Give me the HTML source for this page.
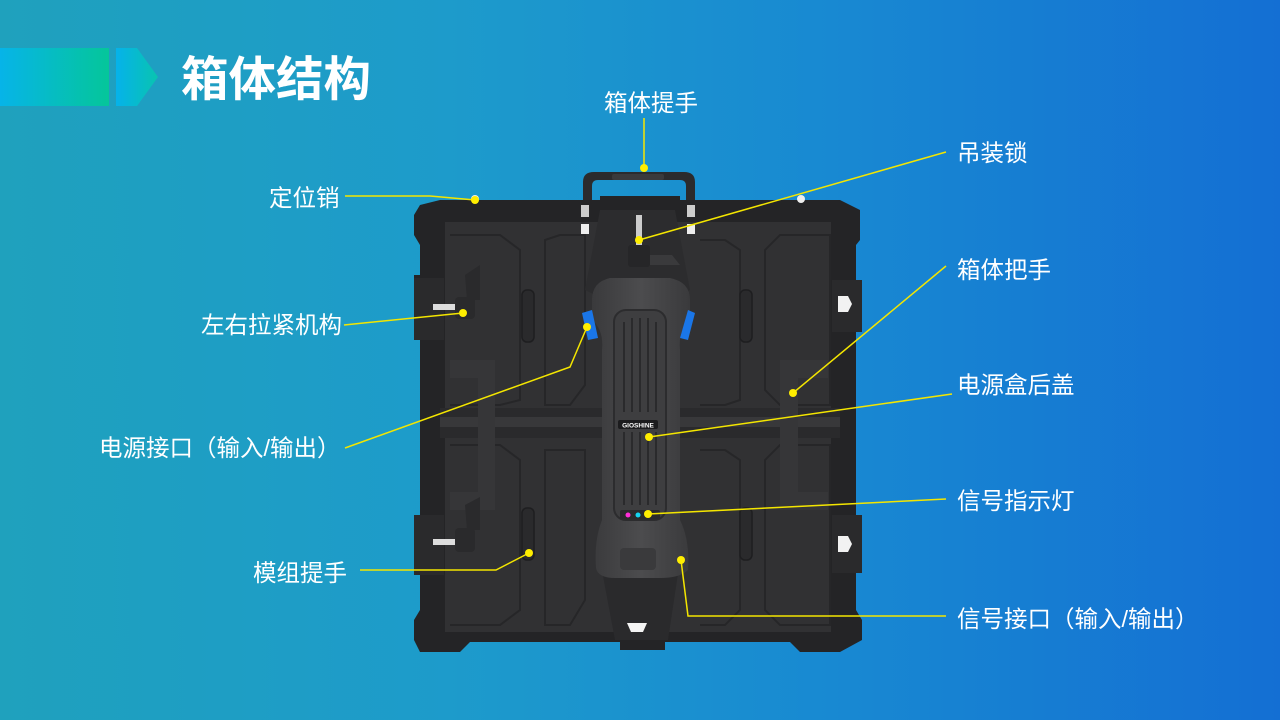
<!DOCTYPE html>
<html><head><meta charset="utf-8"><style>
html,body{margin:0;padding:0;width:1280px;height:720px;overflow:hidden}
svg{display:block}
text{font-family:"Liberation Sans","Noto Sans CJK SC",sans-serif;fill:#fff}
</style></head><body>
<svg width="1280" height="720" viewBox="0 0 1280 720" xmlns="http://www.w3.org/2000/svg">
<defs>
<linearGradient id="bg" x1="0" y1="0" x2="1" y2="0">
<stop offset="0" stop-color="#1fa1bd"/><stop offset="0.35" stop-color="#1d9bcb"/><stop offset="0.65" stop-color="#1889d2"/><stop offset="1" stop-color="#146fd3"/>
</linearGradient>
<linearGradient id="b1" x1="0" y1="0" x2="1" y2="0"><stop offset="0" stop-color="#06b4e8"/><stop offset="1" stop-color="#05c69a"/></linearGradient>
<linearGradient id="b2" x1="0" y1="0" x2="1" y2="0"><stop offset="0" stop-color="#06b2ea"/><stop offset="1" stop-color="#08c4b0"/></linearGradient>
<linearGradient id="spine" x1="0" y1="0" x2="1" y2="0"><stop offset="0" stop-color="#3a3a3c"/><stop offset="0.5" stop-color="#4c4c4e"/><stop offset="1" stop-color="#3a3a3c"/></linearGradient>
</defs>
<rect width="1280" height="720" fill="url(#bg)"/>
<rect x="0" y="48" width="109" height="58" fill="url(#b1)"/>
<path d="M116 48 H137 L158 77 L137 106 H116 Z" fill="url(#b2)"/>
<text x="181" y="96" font-size="47.5" font-weight="bold">箱体结构</text>

<g>
<path d="M583 205 V182 Q583 172 594 172 H684 Q695 172 695 182 V205 H686 V186 Q686 180 680 180 H598 Q592 180 592 186 V205 Z" fill="#2b2b2d"/>
<rect x="612" y="174" width="52" height="6" rx="2" fill="#3a3a3c"/>
<path d="M420 205 L440 200 H600 V196 H680 V200 H840 L860 210 V240 L856 245 V280 H862 V330 H856 V520 H862 V570 H856 V610 L862 620 V640 L840 652 H800 L790 642 H665 V650 H620 V642 H470 L460 652 H420 L414 640 V620 L420 610 V570 H414 V520 H420 V340 H414 V275 H420 V245 L414 235 V215 Z" fill="#242426"/>
<rect x="445" y="222" width="386" height="410" fill="#313133"/>
<g fill="none" stroke="#262628" stroke-width="2">
<path d="M450 235 H500 L520 250 V400 L500 405 H450"/>
<path d="M545 240 L560 235 H585 V385 L570 405 H545 Z"/>
<path d="M700 240 H725 L740 250 V400 L725 405 H700"/>
<path d="M780 235 H830 V405 H780 L765 390 V250 Z"/>
<path d="M450 445 H500 L520 460 V610 L500 625 H450"/>
<path d="M545 450 H585 V600 L570 625 H545 Z"/>
<path d="M700 450 H725 L740 460 V610 L725 625 H700"/>
<path d="M780 445 H830 V625 H780 L765 610 V460 Z"/>
</g>
<rect x="440" y="408" width="400" height="30" fill="#2a2a2c"/>
<rect x="440" y="417" width="400" height="10" fill="#38383a"/>
<g fill="#2a2a2c" stroke="#1e1e20" stroke-width="1.5">
<rect x="522" y="290" width="12" height="52" rx="5"/>
<rect x="740" y="290" width="12" height="52" rx="5"/>
<rect x="522" y="508" width="12" height="52" rx="5"/>
<rect x="740" y="508" width="12" height="52" rx="5"/>
</g>
<path d="M450 360 H495 V510 H450 V492 H478 V378 H450 Z" fill="#363638"/>
<path d="M828 360 H780 V510 H828 V492 H798 V378 H828 Z" fill="#363638"/>
<g fill="#2a2a2c">
<rect x="414" y="278" width="30" height="62" />
<rect x="414" y="515" width="30" height="60" />
<rect x="455" y="297" width="20" height="22" rx="4"/>
<rect x="455" y="528" width="20" height="24" rx="4"/>
<path d="M465 275 L480 265 V300 H467 Z"/>
<path d="M465 505 L480 497 V530 H467 Z"/>
</g>
<rect x="433" y="304" width="22" height="6" fill="#ddd"/>
<rect x="433" y="539" width="22" height="6" fill="#ddd"/>
<rect x="832" y="280" width="30" height="52" fill="#2a2a2c"/>
<rect x="832" y="515" width="30" height="58" fill="#2a2a2c"/>
<path d="M838 296 H848 L852 304 L848 312 H838 Z" fill="#f2f2f2"/>
<path d="M838 536 H848 L852 544 L848 552 H838 Z" fill="#f2f2f2"/>
<ellipse cx="475" cy="199" rx="4" ry="4" fill="#eee"/>
<ellipse cx="801" cy="199" rx="4" ry="4" fill="#eee"/>
<rect x="581" y="205" width="8" height="12" fill="#ccc"/>
<rect x="687" y="205" width="8" height="12" fill="#ccc"/>
<rect x="581" y="224" width="8" height="10" fill="#eee"/>
<rect x="687" y="224" width="8" height="10" fill="#eee"/>
<path d="M600 210 H675 L690 290 L670 300 H605 L585 290 Z" fill="#2c2c2e"/>
<path d="M600 560 H680 L668 640 H615 Z" fill="#2a2a2c"/>
<rect x="636" y="215" width="6" height="38" fill="#ccc"/>
<rect x="628" y="245" width="22" height="22" rx="3" fill="#262628"/>
<path d="M650 255 H672 L680 265 H650 Z" fill="#3a3a3c"/>
<path d="M610 278 H670 Q690 282 690 300 V320 Q678 330 680 350 V520 Q690 540 688 570 Q680 578 660 578 H615 Q598 578 596 568 Q594 540 602 520 V350 Q604 330 592 320 V300 Q592 282 610 278 Z" fill="url(#spine)"/>
<rect x="614" y="310" width="52" height="210" rx="12" fill="#3e3e40" stroke="#2c2c2e" stroke-width="2"/>
<g stroke="#2a2a2c" stroke-width="2">
<line x1="624" y1="322" x2="624" y2="412"/><line x1="632" y1="318" x2="632" y2="412"/><line x1="640" y1="318" x2="640" y2="412"/><line x1="648" y1="318" x2="648" y2="412"/><line x1="656" y1="322" x2="656" y2="412"/>
<line x1="624" y1="432" x2="624" y2="505"/><line x1="632" y1="432" x2="632" y2="505"/><line x1="640" y1="432" x2="640" y2="505"/><line x1="648" y1="432" x2="648" y2="505"/><line x1="656" y1="432" x2="656" y2="505"/>
</g>
<rect x="618" y="420" width="40" height="9" rx="2" fill="#1c1c1e"/>
<text x="638" y="427.5" font-size="6.5" font-weight="bold" text-anchor="middle">GIOSHINE</text>
<rect x="620" y="510" width="40" height="9" rx="2" fill="#2a2a2c"/>
<circle cx="628" cy="515" r="2.5" fill="#ff2ed8"/>
<circle cx="638" cy="515" r="2.5" fill="#15d4f2"/>
<rect x="620" y="548" width="36" height="22" rx="4" fill="#3a3a3c"/>
<path d="M582 313 L592 310 L598 338 L588 340 Z" fill="#1a76e8"/>
<path d="M688 310 L695 313 L688 340 L680 338 Z" fill="#1a76e8"/>
<path d="M627 623 H647 L643 632 H631 Z" fill="#f4f4f4"/>
</g>

<g stroke="#f4e600" stroke-width="1.5" fill="none">
<line x1="644" y1="118" x2="644" y2="168"/>
<line x1="946" y1="152" x2="639" y2="240"/>
<polyline points="345,196 430,196 475,200"/>
<line x1="946" y1="266" x2="793" y2="393"/>
<line x1="344" y1="325" x2="463" y2="313"/>
<line x1="952" y1="394" x2="649" y2="437"/>
<polyline points="345,448 570,367 587,327"/>
<line x1="946" y1="499" x2="648" y2="514"/>
<polyline points="360,570 496,570 529,553"/>
<polyline points="946,616 688,616 681,560"/>
</g>
<g fill="#ffee00">
<circle cx="644" cy="168" r="4"/><circle cx="639" cy="240" r="4"/><circle cx="475" cy="200" r="4"/>
<circle cx="793" cy="393" r="4"/><circle cx="463" cy="313" r="4"/><circle cx="649" cy="437" r="4"/>
<circle cx="587" cy="327" r="4"/><circle cx="648" cy="514" r="4"/><circle cx="529" cy="553" r="4"/><circle cx="681" cy="560" r="4"/>
</g>

<g font-size="23.5">
<text x="604" y="111">箱体提手</text>
<text x="957" y="161">吊装锁</text>
<text x="269" y="206">定位销</text>
<text x="957" y="278">箱体把手</text>
<text x="201" y="333">左右拉紧机构</text>
<text x="957" y="393">电源盒后盖</text>
<text x="99" y="456">电源接口（输入/输出）</text>
<text x="957" y="509">信号指示灯</text>
<text x="253" y="581">模组提手</text>
<text x="957" y="627">信号接口（输入/输出）</text>
</g>
</svg>
</body></html>
